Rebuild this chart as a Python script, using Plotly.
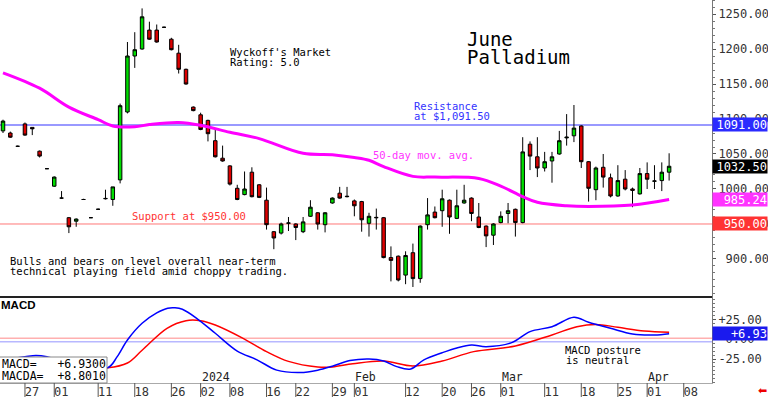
import plotly.graph_objects as go

# ---------------- data ----------------
sessions = [
    "2023-11-21", "2023-11-22", "2023-11-24", "2023-11-27", "2023-11-28", "2023-11-29", "2023-11-30",
    "2023-12-01", "2023-12-04", "2023-12-05", "2023-12-06", "2023-12-07", "2023-12-08",
    "2023-12-11", "2023-12-12", "2023-12-13", "2023-12-14", "2023-12-15",
    "2023-12-18", "2023-12-19", "2023-12-20", "2023-12-21", "2023-12-22",
    "2023-12-26", "2023-12-27", "2023-12-28", "2023-12-29",
    "2024-01-02", "2024-01-03", "2024-01-04", "2024-01-05",
    "2024-01-08", "2024-01-09", "2024-01-10", "2024-01-11", "2024-01-12",
    "2024-01-16", "2024-01-17", "2024-01-18", "2024-01-19",
    "2024-01-22", "2024-01-23", "2024-01-24", "2024-01-25", "2024-01-26",
    "2024-01-29", "2024-01-30", "2024-01-31", "2024-02-01", "2024-02-02",
    "2024-02-05", "2024-02-06", "2024-02-07", "2024-02-08", "2024-02-09",
    "2024-02-12", "2024-02-13", "2024-02-14", "2024-02-15", "2024-02-16",
    "2024-02-20", "2024-02-21", "2024-02-22", "2024-02-23",
    "2024-02-26", "2024-02-27", "2024-02-28", "2024-02-29", "2024-03-01",
    "2024-03-04", "2024-03-05", "2024-03-06", "2024-03-07", "2024-03-08",
    "2024-03-11", "2024-03-12", "2024-03-13", "2024-03-14", "2024-03-15",
    "2024-03-18", "2024-03-19", "2024-03-20", "2024-03-21", "2024-03-22",
    "2024-03-25", "2024-03-26", "2024-03-27", "2024-03-28",
    "2024-04-01", "2024-04-02", "2024-04-03", "2024-04-04",
    "2024-04-05", "2024-04-08", "2024-04-09", "2024-04-10", "2024-04-11", "2024-04-12",
]

opens = [1083, 1080, 1061, 1093, 1088, 1054, 1029, 1004, 987, 959, 954, 985, 959,
         971, 986, 985, 1013, 1110, 1190, 1200, 1227, 1227, 1231, 1214, 1194, 1171, 1117,
         1106, 1098, 1069, 1044, 1033, 1001, 992, 1024, 1006, 984, 939, 937, 951,
         950, 939, 961, 966, 949, 980, 994, 989, 983, 982, 951, 959.5, 959, 902, 904,
         877, 909, 872, 949, 967, 969, 984, 958, 980, 987, 960, 947, 934, 952,
         965, 971, 952, 1064, 1046, 1030, 1040, 1050, 1073, 1076, 1090, 1039, 999, 1031, 1016,
         990, 1014, 1000, 993, 1022, 1011, 1012, 1024]
highs = [1099, 1082, 1062, 1095, 1088, 1055, 1030, 1018, 997, 960, 958, 986, 960,
         972, 999, 1003, 1122, 1210, 1224, 1258, 1239, 1235, 1232, 1216, 1206, 1172, 1118,
         1109, 1099, 1085, 1062, 1034, 1006, 1025, 1031, 1007, 1002, 940, 952, 960,
         951, 960, 984, 967, 967, 988, 1003, 1003, 985, 983, 966, 972, 960, 918, 905,
         911, 922, 948, 987, 975, 999, 985, 999, 1006, 988, 980, 948, 951, 968,
         980, 972, 1074, 1068, 1074, 1053, 1053, 1083, 1107, 1120, 1091, 1040, 1032, 1050, 1022,
         1034, 1027, 1002, 1030, 1038, 1034, 1038, 1051]
lows = [1080, 1073, 1060, 1076, 1077, 1045, 1029, 1003, 986, 937, 946, 985, 959,
        971, 985, 976, 1008, 1108, 1173, 1199, 1213, 1209, 1231, 1198, 1165, 1149, 1111,
        1084, 1068, 1045, 1039, 1005, 984, 991, 988, 987, 942, 914, 935, 940,
        927, 937, 960, 942, 938, 979, 986, 988, 961, 939, 932, 942, 901, 868, 868,
        864, 860, 866, 942, 958, 946, 936, 957, 979, 954, 944, 917, 920, 951,
        951, 932, 951, 1027, 1017, 1025, 1009, 1049, 1062, 1067, 1030, 982, 984, 1002, 988,
        989, 998, 974, 992, 1000, 1000, 997, 1012]
closes = [1097, 1074, 1061, 1077, 1086, 1047, 1029, 1017, 987, 946, 957, 985, 959,
          971, 986.5, 1003, 1119, 1190, 1199, 1246, 1214, 1210, 1231, 1199, 1171, 1150, 1112,
          1085, 1079, 1046, 1040, 1007, 985, 1000, 989, 988, 949, 930, 950, 951.5,
          945, 953, 974, 950, 966, 987, 987, 989.5, 976, 956, 961, 959, 902, 898, 870,
          905, 872, 947, 963, 959, 986, 960, 976, 984, 965, 945, 933, 950, 961,
          969, 952, 1053, 1047, 1030, 1039, 1046, 1069, 1074, 1087, 1039, 1001, 1030, 1017, 990,
          1012, 1000, 998, 1022, 1014, 1011.5, 1024, 1032.5]

# 50-day moving average (read at selected sessions)
ma_idx = [0, 5, 9, 13, 15, 18, 20, 24, 27, 31, 35, 41, 45, 48, 50, 52, 56, 59, 65, 68, 71, 73, 77, 80, 86, 91]
ma_vals = [1166, 1144, 1117, 1099, 1090, 1089, 1092, 1095, 1091, 1081, 1072, 1051, 1049, 1045,
           1041, 1032, 1018, 1017, 1015, 1004, 989, 981, 976, 975, 977, 985]

# MACD (blue) and signal MACDA (red)
macd_idx = [0, 3, 4.5, 6, 9, 14.3, 15.6, 17, 19, 21, 22.5, 23.5, 24.5, 26.5, 29, 32, 34.7, 37.4, 40.6,
            43, 45, 47.4, 50, 52, 53.8, 55.7, 57.5, 60, 62, 64, 66, 69.5, 72, 75, 78, 80, 83, 86, 89, 91]
macd_vals = [-26, -22, -20.5, -22, -30, -36, -22, -1, 20, 33, 39, 39.5, 37.6, 26, 7.4, -15, -26, -39, -42,
             -39, -34, -27, -25, -27.5, -34.6, -37.5, -26, -17, -11, -7.3, -9.4, -4.4, 9.5, 15.7,
             27.6, 21.3, 13.7, 6.5, 5.3, 6.93]
sig_idx = [0, 7, 14.3, 17, 19, 22.4, 25, 27, 29, 32.8, 36, 39, 43, 45, 47.8, 52, 56, 60, 64.3, 70,
           75, 78.4, 81, 84, 87.6, 91]
sig_vals = [-28, -34, -36, -30, -14, 13.7, 23.3, 23.3, 17.9, 1.1, -15.7, -28, -35, -35, -31, -27.5,
            -33.8, -27.5, -15.7, -8.6, 5.3, 15.7, 18.6, 14.9, 10.3, 8.8]

price_ticks = [900, 950, 1000, 1050, 1100, 1150, 1200, 1250]
price_tick_text = ["\u00a0900.00", "\u00a0950.00", "1000.00", "1050.00", "1100.00", "1150.00",
                   "1200.00", "1250.00"]
macd_ticks = [25, 0, -25]
macd_tick_text = ["+25.00", "\u00a00.00", "-25.00"]

tick_dates = ["2023-11-27", "2023-12-01", "2023-12-11", "2023-12-18", "2023-12-26", "2024-01-02",
              "2024-01-08", "2024-01-16", "2024-01-22", "2024-01-29", "2024-02-01", "2024-02-12",
              "2024-02-20", "2024-02-26", "2024-03-01", "2024-03-11", "2024-03-18", "2024-03-25",
              "2024-04-01", "2024-04-08"]
tick_labels = ["27", "01", "11", "18", "26", "02", "08", "16", "22", "29", "01", "12", "20", "26",
               "01", "11", "18", "25", "01", "08"]
period_dates = ["2024-01-02", "2024-02-01", "2024-03-01", "2024-04-01"]
period_labels = ["2024", "Feb", "Mar", "Apr"]

resistance = 1091.5
support = 950.0
last_close = 1032.5
last_ma = 985.24
macd_last = 6.93

# ---------------- figure ----------------
W, H = 768, 399
MONO = "DejaVu Sans Mono"
idx = list(range(len(opens)))
tick_idx = [sessions.index(d) for d in tick_dates]
period_idx = [sessions.index(d) for d in period_dates]


def px(x):
    return x / W


def py(y):
    return 1 - y / H


XR = [-0.41, 96.86]
XD = [0, px(712)]

fig = go.Figure()
fig.add_trace(go.Candlestick(
    x=idx, open=opens, high=highs, low=lows, close=closes,
    increasing=dict(fillcolor="#00dd00", line=dict(color="#000000", width=1)),
    decreasing=dict(fillcolor="#dd0000", line=dict(color="#000000", width=1)),
    whiskerwidth=0, hoverinfo="skip", xaxis="x", yaxis="y", showlegend=False,
))
fig.add_trace(go.Scatter(
    x=ma_idx, y=ma_vals, mode="lines", line=dict(color="#ff00ff", width=3, shape="spline"),
    hoverinfo="skip", xaxis="x", yaxis="y", showlegend=False,
))
fig.add_trace(go.Scatter(
    x=sig_idx, y=sig_vals, mode="lines", line=dict(color="#ff0000", width=1.5, shape="spline"),
    hoverinfo="skip", xaxis="x2", yaxis="y2", showlegend=False,
))
fig.add_trace(go.Scatter(
    x=macd_idx, y=macd_vals, mode="lines", line=dict(color="#0000ff", width=1.5, shape="spline"),
    hoverinfo="skip", xaxis="x2", yaxis="y2", showlegend=False,
))

shapes = [
    dict(type="line", xref="paper", yref="y", x0=0, x1=XD[1], y0=resistance, y1=resistance,
         line=dict(color="#9999ff", width=2), layer="below"),
    dict(type="line", xref="paper", yref="y", x0=0, x1=XD[1], y0=support, y1=support,
         line=dict(color="#ff7777", width=1), layer="below"),
    dict(type="line", xref="paper", yref="y2", x0=0, x1=XD[1], y0=1.0, y1=1.0,
         line=dict(color="#ffb0b0", width=1.5), layer="below"),
    dict(type="line", xref="paper", yref="y2", x0=0, x1=XD[1], y0=-3.2, y1=-3.2,
         line=dict(color="#b8b8ff", width=1.5), layer="below"),
    dict(type="line", xref="paper", yref="paper", x0=0, x1=XD[1], y0=py(297), y1=py(297),
         line=dict(color="#222222", width=2)),
    dict(type="rect", xref="paper", yref="paper", x0=px(-1), x1=px(107), y0=py(383), y1=py(357),
         fillcolor="white", line=dict(color="#888888", width=1), layer="above"),
]
for ti in tick_idx:
    shapes.append(dict(type="line", xref="x2", yref="paper", x0=ti, x1=ti, y0=py(383), y1=py(397),
                       line=dict(color="#555555", width=1)))

annotations = []


def txt(text, x, y, size=10.5, color="#000000", family=MONO, xanchor="left", **kw):
    annotations.append(dict(text=text, x=px(x), y=py(y), xref="paper", yref="paper",
                            xanchor=xanchor, yanchor="middle", showarrow=False,
                            font=dict(family=family, size=size, color=color), **kw))


txt("Wyckoff's Market", 228, 52.5)
txt("Rating: 5.0", 228, 62.5)
txt("June", 465, 39, size=19)
txt("Palladium", 465, 57, size=19)
txt("Resistance", 412, 106, color="#3333ff")
txt("at $1,091.50", 412, 116, color="#3333ff")
txt("50-day mov. avg.", 371, 154.5, color="#ff33ff")
txt("Support at $950.00", 130, 216, color="#ff3333")
txt("Bulls and bears on level overall near-term", 8, 261)
txt("technical playing field amid choppy trading.", 8, 271)
txt("<b>MACD</b>", -1, 305, size=11.5, family="Liberation Sans")
txt("MACD posture", 563, 350)
txt("is neutral", 564, 360)
txt("MACD=   +6.9300", 0, 363.5, size=11.5)
txt("MACDA=  +8.8010", 0, 375.5, size=11.5)
txt("\u2b05", 762, 390, size=11, color="#ee0000", family="DejaVu Sans", xanchor="center")

for pi, pl in zip(period_idx, period_labels):
    annotations.append(dict(text=pl, x=pi, y=py(377), xref="x2", yref="paper", xanchor="left",
                            yanchor="middle", showarrow=False, xshift=-1,
                            font=dict(family=MONO, size=11.5, color="#222222")))


def box(text, y, yref, bg):
    annotations.append(dict(text=text, x=1, y=y, xref="paper", yref=yref, xanchor="right",
                            yanchor="middle", showarrow=False, bgcolor=bg, width=54, height=13,
                            align="right", borderpad=0,
                            font=dict(family=MONO, size=12, color="white")))


box("1091.00", resistance, "y", "#2b2bff")
box("1032.50", last_close, "y", "#000000")
box("985.24", last_ma, "y", "#ff33ff")
box("950.00", support, "y", "#ff3333")
box("+6.93", macd_last, "y2", "#1a1aee")

axis_font = dict(family=MONO, size=12, color="#333333")
fig.update_layout(
    width=W, height=H, margin=dict(l=0, r=0, t=0, b=0),
    paper_bgcolor="white", plot_bgcolor="white", showlegend=False,
    hovermode=False, boxgap=0.32,
    xaxis=dict(domain=XD, range=XR, anchor="y", showticklabels=False, showgrid=False,
               zeroline=False, showline=False, ticks="", rangeslider=dict(visible=False),
               fixedrange=True),
    yaxis=dict(domain=[py(297), 1], range=[845.7, 1270], side="right", anchor="x",
               tickvals=price_ticks, ticktext=price_tick_text, ticks="outside", ticklen=3,
               tickcolor="#555555", showline=True, linecolor="#777777", linewidth=1,
               showgrid=False, zeroline=False, tickfont=axis_font,
               minor=dict(dtick=10, tick0=900, ticks="outside", ticklen=2, tickcolor="#777777")),
    xaxis2=dict(domain=XD, range=XR, anchor="y2", tickvals=tick_idx, ticktext=tick_labels,
                ticks="", showline=True, linecolor="#aaaaaa", linewidth=1, showgrid=False,
                zeroline=False, tickfont=axis_font, ticklabelshift=7, ticklabelstandoff=-2),
    yaxis2=dict(domain=[py(383), py(297)], range=[-55.2, 53.1], side="right", anchor="x2",
                tickvals=macd_ticks, ticktext=macd_tick_text, ticks="outside", ticklen=3,
                tickcolor="#555555", showline=True, linecolor="#777777", linewidth=1,
                showgrid=False, zeroline=False, tickfont=axis_font,
                minor=dict(dtick=5, ticks="outside", ticklen=2, tickcolor="#777777")),
    shapes=shapes, annotations=annotations,
)

fig.write_html("out.html", config={"displayModeBar": False},
               post_script="document.body.style.margin='0';document.body.style.overflow='hidden';")
